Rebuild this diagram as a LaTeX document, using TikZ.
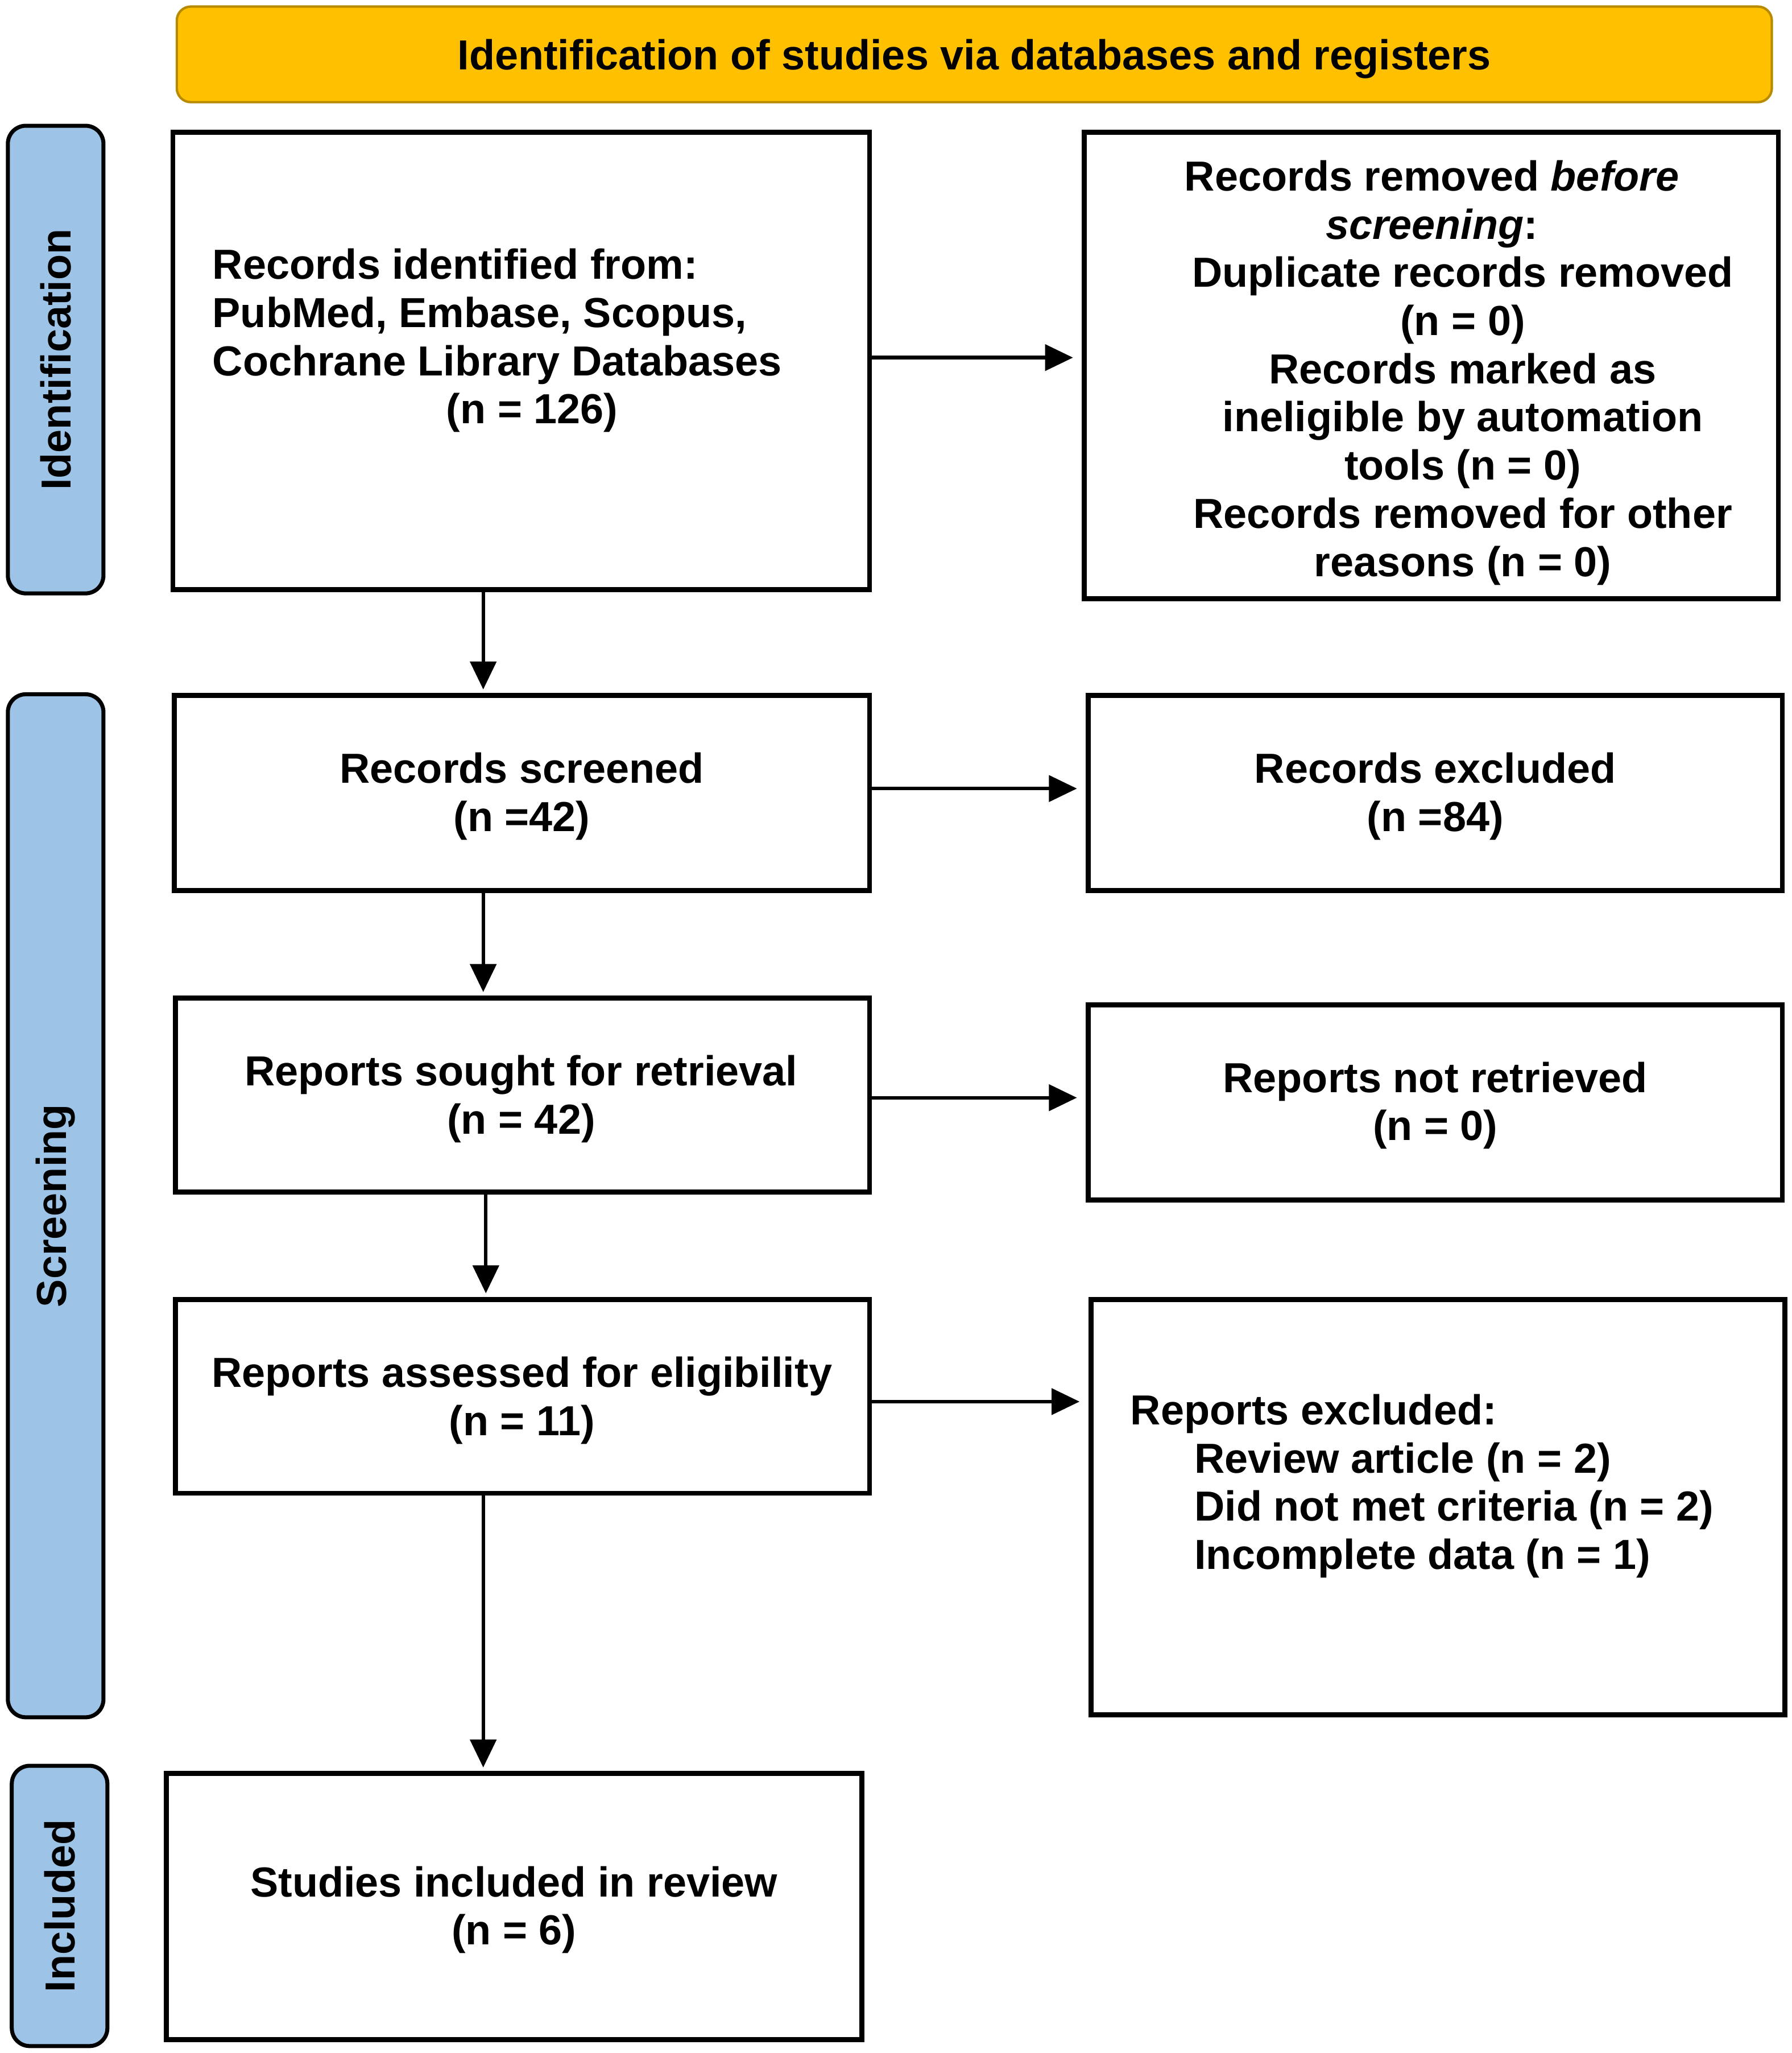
\documentclass[tikz,border=0pt]{standalone}
\usepackage{fontspec}
\setmainfont{Liberation Sans}
\usetikzlibrary{arrows.meta,fit}
\definecolor{bannergold}{HTML}{FFC000}
\definecolor{bannerline}{HTML}{B88A00}
\definecolor{sideblue}{HTML}{9DC3E6}
\begin{document}
\begin{tikzpicture}[x=0.023026cm,y=-0.023026cm,
  font=\fontsize{21}{24.1}\selectfont\bfseries,
  box/.style={draw, line width=2.5pt, inner sep=0pt, fill=white},
  txt/.style={inner sep=0pt, align=center},
  side/.style={draw, fill=sideblue, rounded corners=9pt, line width=2pt, inner sep=0pt},
  sidetext/.style={rotate=90, inner sep=0pt},
  banner/.style={draw=bannerline, fill=bannergold, rounded corners=7pt, line width=1.2pt, inner sep=0pt},
  arr/.style={-{Triangle[length=14pt,width=13pt]}, line width=1.8pt},
  harr/.style={arr, shorten >=4.4pt},
  varr/.style={arr, shorten >=1.8pt}]
\useasboundingbox (0,0) rectangle (1368,1567.3);

% banner
\node[banner, fit={(135,5) (1353,78)}] (ban) {};
\node[txt] (bant) at (744,45) {Identification of studies via databases and registers};

% side bars
\node[side, fit={(6,96) (79,453)}] (sid) {};
\node[sidetext] (sidt) at (sid.center) {Identification};
\node[side, fit={(6,530) (79,1311)}] (sscr) {};
\node[sidetext] (sscrt) at (sscr.center) {Screening};
\node[side, fit={(9,1348) (82,1562)}] (sinc) {};
\node[sidetext] (sinct) at (sinc.center) {Included};

% boxes
\node[box, fit={(132,101) (664,450)}] (b1) {};
\node[anchor=west, inner sep=0pt, align=left] (b1t) at (162,260) {Records identified from:\\PubMed, Embase, Scopus,\\Cochrane Library Databases\\\hspace*{117pt}(n = 126)};

\node[box, fit={(828,101) (1358,457)}] (rem) {};
\node[txt] (remt) at (1117,284.5) {Records removed \textit{before}\rule{31pt}{0pt}\\\textit{screening}:\rule{31pt}{0pt}\\Duplicate records removed\\(n = 0)\\Records marked as\\ineligible by automation\\tools (n = 0)\\Records removed for other\\reasons (n = 0)};

\node[box, fit={(133,531) (664,680)}] (scr) {};
\node[txt] (scrt) at (398.5,608) {Records screened\\(n =42)};
\node[box, fit={(831,531) (1361,680)}] (exc) {};
\node[txt] (exct) at (1096,608) {Records excluded\\(n =84)};

\node[box, fit={(134,762) (664,910)}] (sou) {};
\node[txt] (sout) at (398,839) {Reports sought for retrieval\\(n = 42)};
\node[box, fit={(831,767) (1361,916)}] (nr) {};
\node[txt] (nrt) at (1096,844) {Reports not retrieved\\(n = 0)};

\node[box, fit={(134,992) (664,1140)}] (ass) {};
\node[txt] (asst) at (398.5,1069) {Reports assessed for eligibility\\(n = 11)};
\node[box, fit={(833,992) (1363,1309)}] (rex) {};
\node[anchor=west, inner sep=0pt, align=left] (rext) at (863,1134.5) {Reports excluded:\\\hspace*{32pt}Review article (n = 2)\\\hspace*{32pt}Did not met criteria (n = 2)\\\hspace*{32pt}Incomplete data (n = 1)};

\node[box, fit={(127,1354) (658,1557)}] (inc) {};
\node[txt] (inct) at (392.5,1458) {Studies included in review\\(n = 6)};

% arrow guide coordinates
\coordinate (h1) at (0,273);
\coordinate (h2) at (0,602);
\coordinate (h3) at (0,838);
\coordinate (h4) at (0,1070);
\coordinate (v1) at (369,0);
\coordinate (v2) at (371,0);

\draw[harr] (b1.east |- h1) -- (rem.west |- h1);
\draw[varr] (v1 |- b1.south) -- (v1 |- scr.north);
\draw[harr] (scr.east |- h2) -- (exc.west |- h2);
\draw[varr] (v1 |- scr.south) -- (v1 |- sou.north);
\draw[harr] (sou.east |- h3) -- (nr.west |- h3);
\draw[varr] (v2 |- sou.south) -- (v2 |- ass.north);
\draw[harr] (ass.east |- h4) -- (rex.west |- h4);
\draw[varr] (v1 |- ass.south) -- (v1 |- inc.north);
\end{tikzpicture}
\end{document}
